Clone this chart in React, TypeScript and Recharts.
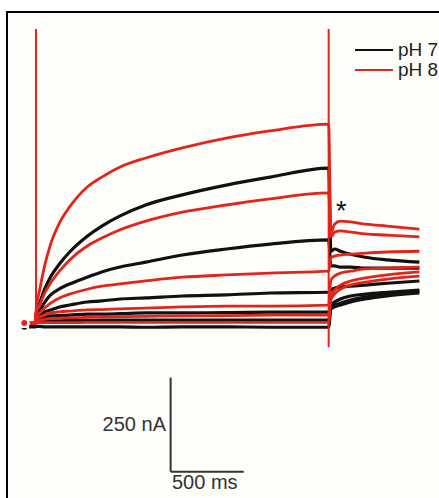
import React from 'react';
import { LineChart, Line, XAxis, YAxis, ReferenceLine, Legend } from 'recharts';

// time points (ms)
const holdTimes = [-80, -45, -5];
const stepTimes = [0, 25, 60, 100, 160, 230, 350, 450, 575, 750, 1000, 1300, 1600, 2000];
const tailTimes = [2015, 2040, 2080, 2150, 2250, 2400, 2620];

// holding current (nA) before the step
const pH7Hold = [-3, -3, -3, -3, -3, -10];
const pH8Hold = [0, 0, 0, 0, 0, 0];

// current during the step (nA), one row per voltage
const pH7Step = [
  [24, 53, 91, 123, 157, 189, 231, 258, 285, 314, 341, 367, 388, 412],
  [19, 32, 56, 75, 91, 104, 122, 136, 149, 162, 181, 197, 210, 221],
  [13, 19, 30, 35, 43, 48, 56, 59, 64, 67, 72, 75, 80, 82],
  [8, 13, 16, 19, 20, 21, 24, 24, 25, 27, 27, 28, 29, 29],
  [3, 4, 5, 6, 6, 7, 7, 8, 8, 8, 8, 8, 8, 8],
  [-9, -9, -10, -10, -10, -10, -10, -10, -10, -11, -10, -10, -11, -11],
];
const pH8Step = [
  [30, 88, 154, 210, 266, 309, 362, 388, 415, 439, 466, 492, 511, 529],
  [24, 48, 80, 107, 138, 168, 205, 226, 248, 271, 295, 314, 330, 346],
  [16, 27, 40, 53, 67, 77, 90, 98, 104, 112, 122, 128, 133, 138],
  [11, 16, 22, 27, 30, 32, 35, 36, 38, 40, 43, 45, 45, 48],
  [5, 8, 10, 12, 13, 14, 15, 16, 17, 18, 19, 20, 21, 21],
  [0, 1, 1, 1, 1, 1, 2, 2, 2, 2, 2, 2, 2, 2],
];

// tail currents (nA)
const pH7Tail = [
  [191, 197, 191, 183, 175, 168, 162],
  [152, 152, 149, 149, 146, 146, 146],
  [88, 93, 96, 98, 101, 106, 112],
  [48, 56, 64, 72, 77, 82, 88],
  [43, 48, 53, 61, 69, 77, 85],
  [37, 43, 48, 56, 64, 72, 80],
];
const pH8Tail = [
  [239, 263, 271, 269, 263, 258, 250],
  [229, 242, 245, 242, 237, 234, 229],
  [173, 178, 181, 183, 186, 189, 191],
  [114, 125, 133, 138, 144, 146, 149],
  [72, 88, 101, 112, 120, 128, 136],
  [61, 77, 90, 101, 109, 117, 125],
];

const BLACK = '#111111';
const RED = '#e3241b';

const buildTrace = (hold: number, step: number[], tail: number[]) => [
  ...holdTimes.map((t) => ({ t, i: hold })),
  ...stepTimes.map((t, k) => ({ t, i: step[k] })),
  ...tailTimes.map((t, k) => ({ t, i: tail[k] })),
];

const blackTraces = pH7Step.map((s, k) => buildTrace(pH7Hold[k], s, pH7Tail[k]));
const redTraces = pH8Step.map((s, k) => buildTrace(pH8Hold[k], s, pH8Tail[k]));

const textFont = '"Liberation Sans", Arial, sans-serif';

const renderLegend = () => (
  <div style={{ fontFamily: textFont, fontSize: 19, color: '#222', lineHeight: '20px' }}>
    {[
      { name: 'pH 7', color: BLACK },
      { name: 'pH 8', color: RED },
    ].map((item) => (
      <div key={item.name} style={{ display: 'flex', alignItems: 'center', whiteSpace: 'nowrap', height: 20 }}>
        <span style={{ display: 'inline-block', width: 38, height: 2, background: item.color, marginRight: 5 }} />
        <span>{item.name}</span>
      </div>
    ))}
  </div>
);

export default function App() {
  return (
    <div style={{ position: 'absolute', left: 0, top: 0, width: 439, height: 498, overflow: 'hidden', background: '#fff' }}>
      <div
        style={{
          position: 'absolute',
          left: 6,
          top: 11,
          width: 460,
          height: 510,
          borderTop: '2px solid #000',
          borderLeft: '2px solid #000',
          background: '#fdfdf9',
        }}
      />
      <div style={{ position: 'absolute', left: 0, top: 0 }}>
        <LineChart width={439} height={498} margin={{ top: 0, right: 0, bottom: 0, left: 0 }}>
          <XAxis dataKey="t" type="number" domain={[-246, 2754]} allowDataOverflow hide />
          <YAxis type="number" domain={[-465, 859]} allowDataOverflow hide />
          <Legend
            layout="horizontal"
            verticalAlign="middle"
            align="center"
            content={renderLegend}
            wrapperStyle={{ position: 'absolute', left: 355, top: 40, width: 90 }}
          />
          {blackTraces.map((d, k) => (
            <Line
              key={`b${k}`}
              data={d}
              dataKey="i"
              type="monotone"
              stroke={BLACK}
              strokeWidth={3.2}
              dot={false}
              isAnimationActive={false}
              legendType="none"
            />
          ))}
          {redTraces.map((d, k) => (
            <Line
              key={`r${k}`}
              data={d}
              dataKey="i"
              type="monotone"
              stroke={RED}
              strokeWidth={2.8}
              dot={false}
              isAnimationActive={false}
              legendType="none"
            />
          ))}
          {/* clipped capacitive transients */}
          <ReferenceLine segment={[{ x: 0, y: -5 }, { x: 0, y: 782 }]} stroke={RED} strokeWidth={2} />
          <ReferenceLine segment={[{ x: 2000, y: -64 }, { x: 2000, y: 782 }]} stroke={RED} strokeWidth={2} />
          {/* scale bar: 250 nA / 500 ms */}
          <ReferenceLine segment={[{ x: 920, y: -395 }, { x: 920, y: -145 }]} stroke="#333" strokeWidth={2} />
          <ReferenceLine segment={[{ x: 920, y: -395 }, { x: 1420, y: -395 }]} stroke="#333" strokeWidth={2} />
        </LineChart>
      </div>
      <div style={{ position: 'absolute', right: 439 - 166, top: 413, fontFamily: textFont, fontSize: 20, color: '#333', whiteSpace: 'nowrap' }}>
        250 nA
      </div>
      <div style={{ position: 'absolute', left: 172, top: 471, fontFamily: textFont, fontSize: 20, color: '#333', whiteSpace: 'nowrap' }}>
        500 ms
      </div>
      <div style={{ position: 'absolute', left: 336, top: 196, fontFamily: textFont, fontSize: 27, color: '#111' }}>*</div>
    </div>
  );
}
